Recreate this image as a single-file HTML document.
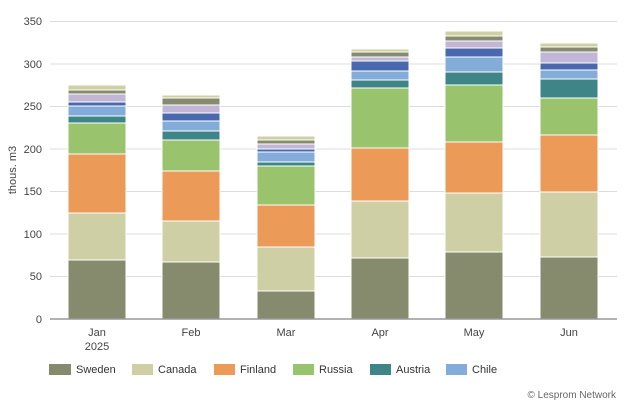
<!DOCTYPE html>
<html><head><meta charset="utf-8"><style>
body{margin:0;background:#fff;}
svg{display:block;font-family:"Liberation Sans",sans-serif;}
</style></head><body>
<svg id="s" width="624" height="404" xmlns="http://www.w3.org/2000/svg">
<g stroke="#dcdcdc" stroke-width="1">
<line x1="50" x2="617" y1="21.5" y2="21.5"/><line x1="50" x2="617" y1="64" y2="64"/>
<line x1="50" x2="617" y1="106.5" y2="106.5"/><line x1="50" x2="617" y1="149" y2="149"/>
<line x1="50" x2="617" y1="191.5" y2="191.5"/><line x1="50" x2="617" y1="234" y2="234"/>
<line x1="50" x2="617" y1="276.5" y2="276.5"/>
</g>
<g font-size="11" fill="#444" text-anchor="end">
<text x="42" y="25">350</text><text x="42" y="68">300</text><text x="42" y="110">250</text>
<text x="42" y="153">200</text><text x="42" y="195">150</text><text x="42" y="238">100</text>
<text x="42" y="280">50</text><text x="42" y="323">0</text>
</g>
<text transform="translate(16,170) rotate(-90)" font-size="11" fill="#444" text-anchor="middle">thous. m3</text>
<g id="bars"></g>
<line x1="50" x2="617" y1="319" y2="319" stroke="#999" stroke-width="1.5"/>
<g font-size="11" fill="#444" text-anchor="middle">
<text x="97" y="336">Jan</text><text x="97" y="350">2025</text>
<text x="191" y="336">Feb</text><text x="286" y="336">Mar</text><text x="380" y="336">Apr</text>
<text x="474" y="336">May</text><text x="569" y="336">Jun</text>
</g>
<g font-size="11" fill="#333">
<rect x="49" y="364" width="22" height="11" fill="#878b6e"/><text x="76" y="373">Sweden</text>
<rect x="132" y="364" width="21" height="11" fill="#cfcfa6"/><text x="158" y="373">Canada</text>
<rect x="214" y="364" width="21" height="11" fill="#eb9a57"/><text x="240" y="373">Finland</text>
<rect x="293" y="364" width="21" height="11" fill="#99c46d"/><text x="319" y="373">Russia</text>
<rect x="370" y="364" width="21" height="11" fill="#3f8587"/><text x="396" y="373">Austria</text>
<rect x="446" y="364" width="21" height="11" fill="#84acd9"/><text x="472" y="373">Chile</text>
</g>
<text x="616" y="398" font-size="10" fill="#666" text-anchor="end">© Lesprom Network</text>
</svg>
<script>
var cols=["#878b6e","#cfcfa6","#eb9a57","#99c46d","#3f8587","#84acd9","#4a68ae","#c2b6d6","#878b6e","#cfcfa6"];
var xs=[68,162,257,351,445,540];
var tops=[
[260,213,154,123,116,106,102,94,90,85],
[262,221,171,140,131,121,113,105,98,95],
[291,247,205,166,162,152,149,144,140,136],
[258,201,148,88,80,71,61,57,52,49],
[252,193,142,85,72,57,48,41,36,31],
[257,192,135,98,79,70,63,52,47,43]];
var h="";
for(var i=0;i<6;i++){var b=319;for(var j=0;j<10;j++){var t=tops[i][j];
h+='<rect x="'+xs[i]+'" y="'+t+'" width="58" height="'+(b-t)+'" fill="'+cols[j]+'" stroke="#fff" stroke-width="1"/>';b=t;}}
document.getElementById("bars").innerHTML=h;
</script>
</body></html>
